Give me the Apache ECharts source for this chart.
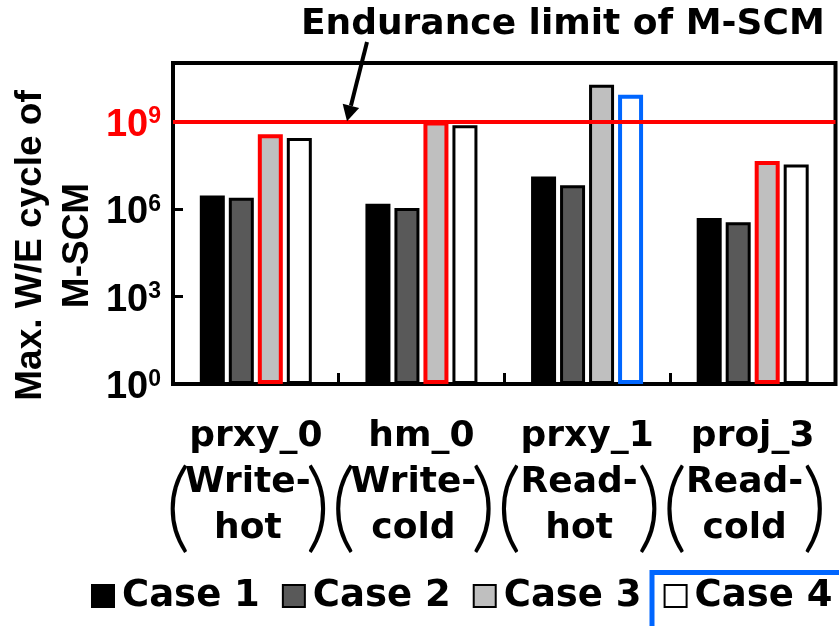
<!DOCTYPE html>
<html><head><meta charset="utf-8">
<script src="https://cdn.jsdelivr.net/npm/echarts@6/dist/echarts.min.js"></script>
<style>html,body{margin:0;padding:0;background:#fff}#c{width:839px;height:626px}</style>
</head><body><div id="c"></div>
<script>
// ---- data ----
const workloads = ['prxy_0', 'hm_0', 'prxy_1', 'proj_3'];
const kindTop = ['Write-', 'Write-', 'Read-', 'Read-'];
const kindBottom = ['hot', 'cold', 'hot', 'cold'];
const seriesNames = ['Case 1', 'Case 2', 'Case 3', 'Case 4'];
const case1 = [2.9e6, 1.5e6, 1.3e7, 4.9e5];
const case2 = [2.4e6, 1.07e6, 6.5e6, 3.5e5];
const case3 = [3.6e8, 9.8e8, 1.8e10, 4.4e7];
const case4 = [2.7e8, 7.3e8, 8.1e9, 3.3e7];
const case3Red = [true, true, false, true];
const case4Blue = [false, false, true, false];
const yTickExponents = [0, 3, 6, 9];
const highlightExponent = 9;
const enduranceLimit = 1e9;
const titleText = 'Endurance limit of M-SCM';
const yName = 'Max. W/E cycle of\nM-SCM';

const XF = 'DejaVu Sans';
const YF = 'Liberation Sans';

function mk(name, data, fill, hl, hlColor) {
  return {
    name: name, type: 'bar',
    data: data.map((v, i) => (hl && hl[i]) ? { value: v, itemStyle: { borderColor: hlColor, borderWidth: 4 } } : v),
    barWidth: 25, barGap: '16%',
    itemStyle: { color: fill, borderColor: '#000', borderWidth: 3 },
    emphasis: { disabled: true }
  };
}

const chart = echarts.init(document.getElementById('c'), null, { renderer: 'canvas' });
const s1 = mk(seriesNames[0], case1, '#000000');
const s2 = mk(seriesNames[1], case2, '#595959');
const s3 = mk(seriesNames[2], case3, '#bfbfbf', case3Red, '#ff0000');
const s4 = mk(seriesNames[3], case4, '#ffffff', case4Blue, '#0066ff');
s4.markLine = {
  silent: true, symbol: ['none', 'none'], label: { show: false },
  lineStyle: { color: '#ff0000', width: 4, type: 'solid' },
  data: [{ yAxis: enduranceLimit }], animation: false, z: 10
};

const option = {
  animation: false,
  title: {
    text: titleText, left: 301, top: 7, padding: 0,
    textStyle: { fontFamily: XF, fontWeight: 'bold', fontSize: 36, color: '#000' }
  },
  legend: {
    left: 91, top: 574, padding: 0, itemWidth: 22, itemHeight: 22, itemGap: 22,
    icon: 'rect', selectedMode: false,
    textStyle: { fontFamily: XF, fontWeight: 'bold', fontSize: 37, color: '#000', lineHeight: 44, padding: [0, 0, 0, 3] },
    data: seriesNames
  },
  grid: {
    left: 173, right: 3.5, top: 63, bottom: 242, show: true,
    borderColor: '#000', borderWidth: 4, containLabel: false, outerBoundsMode: 'none'
  },
  xAxis: {
    type: 'category', data: workloads,
    axisLine: { show: false },
    axisTick: { show: true, inside: true, length: 11, interval: 0, lineStyle: { color: '#000', width: 3 } },
    axisLabel: {
      interval: 0, margin: 30, hideOverlap: false,
      formatter: function (v, i) {
        return '{n|' + v + '}\n{p|(}{w|' + kindTop[i] + '}{p|)}{e| }\n{w|' + kindBottom[i] + '}{e| }';
      },
      rich: {
        n: { fontFamily: XF, fontWeight: 'bold', fontSize: 36, lineHeight: 46, color: '#000' },
        w: { fontFamily: XF, fontWeight: 'bold', fontSize: 36, lineHeight: 46, color: '#000', width: 124, align: 'center' },
        p: { fontFamily: 'Lato', fontWeight: 300, fontSize: 98, lineHeight: 46, color: '#000', width: 16, align: 'center', padding: [50, 0, 0, 0] },
        e: { fontSize: 10, lineHeight: 46, width: 16 }
      }
    }
  },
  yAxis: {
    type: 'log', logBase: 10, min: 1, max: 1e11, interval: 3,
    axisLine: { show: false },
    splitLine: { show: false },
    axisTick: { show: true, inside: true, length: 10, lineStyle: { color: '#000', width: 3 } },
    axisLabel: {
      margin: 12, padding: [8, 0, 0, 0], showMaxLabel: false,
      formatter: function (v) {
        const e = Math.round(Math.log10(v));
        if (yTickExponents.indexOf(e) < 0) return '';
        return e === highlightExponent ? '{rb|10}{rs|' + e + '}' : '{b|10}{s|' + e + '}';
      },
      rich: {
        b: { fontFamily: YF, fontWeight: 'bold', fontSize: 38, lineHeight: 40, color: '#000' },
        s: { fontFamily: YF, fontWeight: 'bold', fontSize: 23, lineHeight: 24, verticalAlign: 'top', color: '#000' },
        rb: { fontFamily: YF, fontWeight: 'bold', fontSize: 38, lineHeight: 40, color: '#ff0000' },
        rs: { fontFamily: YF, fontWeight: 'bold', fontSize: 23, lineHeight: 24, verticalAlign: 'top', color: '#ff0000' }
      }
    },
    name: yName, nameLocation: 'middle', nameRotate: 90, nameGap: 72, nameMoveOverlap: false,
    nameTextStyle: { fontFamily: YF, fontWeight: 'bold', fontSize: 37, lineHeight: 47, color: '#000', padding: [0, 44, 0, 0] }
  },
  series: [s1, s2, s3, s4]
};
chart.setOption(option);

// annotation arrow pointing at the endurance limit line, and box around Case 4 legend item
const yLine = chart.convertToPixel({ yAxisIndex: 0 }, enduranceLimit);
const tail = [367, 42];
const tip = [347, yLine];
const dx = tip[0] - tail[0], dy = tip[1] - tail[1];
const L = Math.sqrt(dx * dx + dy * dy);
const ux = dx / L, uy = dy / L;
const hb = [tip[0] - 16 * ux, tip[1] - 16 * uy];
const px = -uy * 8.5, py = ux * 8.5;
chart.setOption({
  graphic: [
    { type: 'line', z: 100, shape: { x1: tail[0], y1: tail[1], x2: hb[0], y2: hb[1] }, style: { stroke: '#000', lineWidth: 4 } },
    { type: 'polygon', z: 100, shape: { points: [tip, [hb[0] + px, hb[1] + py], [hb[0] - px, hb[1] - py]] }, style: { fill: '#000' } },
    { type: 'rect', z: 100, shape: { x: 652, y: 572.5, width: 220, height: 100 }, style: { fill: 'none', stroke: '#0066ff', lineWidth: 5 } }
  ]
});
</script>
</body></html>
